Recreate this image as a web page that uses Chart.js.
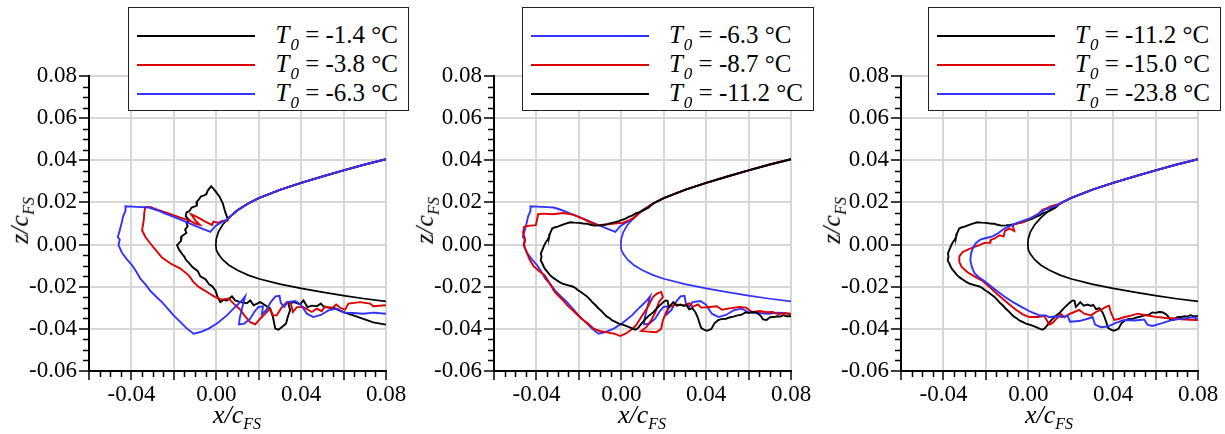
<!DOCTYPE html>
<html>
<head>
<meta charset="utf-8">
<script src="https://cdn.jsdelivr.net/npm/chart.js@4/dist/chart.umd.min.js"></script>
<style>
  html, body { margin: 0; padding: 0; background: #fff; }
  body { width: 1225px; height: 434px; position: relative; overflow: hidden;
         font-family: "Liberation Serif", "Times New Roman", serif; color: #000; }
  canvas { position: absolute; top: 0; }
  .legend { position: absolute; top: 7px; height: 104px; box-sizing: border-box;
            border: 1.5px solid #222; background: #fff; padding: 13px 10px 0 8px; }
  .row { display: flex; align-items: center; height: 29px; }
  .swatch { width: 118px; height: 0; border-top: 2px solid; margin-right: 20px; }
  .lbl { font-size: 25px; line-height: 29px; white-space: nowrap; }
  .lbl i { font-style: italic; }
  .sub { position: relative; top: 7px; font-size: 17px; font-style: italic; margin-left: 1px; }
  .title { position: absolute; font-size: 26px; font-style: italic; white-space: nowrap; line-height: 26px; }
  .title .fs { position: relative; top: 6px; font-size: 16px; }
</style>
</head>
<body>
<script>
// Clean airfoil leading edge (x/c, z/c), upper branch from x = 0.08 towards the nose
const upperSurface = [
  [0.080, 0.0405], [0.070, 0.0380], [0.060, 0.0352], [0.050, 0.0323], [0.040, 0.0293],
  [0.030, 0.0260], [0.020, 0.0220], [0.015, 0.0195], [0.010, 0.0163], [0.006, 0.0128],
  [0.003, 0.0094], [0.001, 0.0060], [0.000, 0.0028], [-0.0002, 0.0000]
];
// Lower branch from the nose back to x = 0.08
const lowerSurface = [
  [0.000, -0.0025], [0.001, -0.0045], [0.003, -0.0072], [0.006, -0.0098], [0.010, -0.0122],
  [0.015, -0.0145], [0.020, -0.0162], [0.030, -0.0188], [0.040, -0.0208], [0.050, -0.0226],
  [0.060, -0.0242], [0.070, -0.0257], [0.080, -0.0270]
];

// Ice contours, from where they leave the upper surface round to x = 0.08 underneath
const iceT_m1_4 = [
  [0.0055, 0.0119], [0.0042, 0.0155], [0.0031, 0.0195], [0.0016, 0.0226], [-0.0005, 0.0255],
  [-0.0024, 0.0277], [-0.0041, 0.0255], [-0.0047, 0.0239], [-0.0060, 0.0232], [-0.0072, 0.0229],
  [-0.0082, 0.0214], [-0.0094, 0.0201], [-0.0091, 0.0185], [-0.0104, 0.0180], [-0.0116, 0.0176],
  [-0.0126, 0.0160], [-0.0141, 0.0152], [-0.0144, 0.0134], [-0.0135, 0.0124], [-0.0126, 0.0115],
  [-0.0141, 0.0106], [-0.0135, 0.0087], [-0.0147, 0.0071], [-0.0141, 0.0055], [-0.0163, 0.0039],
  [-0.0166, 0.0017], [-0.0185, -0.0003], [-0.0176, -0.0024], [-0.0160, -0.0046], [-0.0150, -0.0058],
  [-0.0144, -0.0071], [-0.0126, -0.0090], [-0.0110, -0.0109], [-0.0088, -0.0125], [-0.0075, -0.0151],
  [-0.0050, -0.0166], [-0.0034, -0.0189], [-0.0019, -0.0198], [-0.0003, -0.0220], [0.0006, -0.0249],
  [0.0019, -0.0273], [0.0035, -0.0262], [0.0050, -0.0265], [0.0074, -0.0246], [0.0089, -0.0265],
  [0.0113, -0.0273], [0.0144, -0.0278], [0.0160, -0.0265], [0.0176, -0.0288], [0.0207, -0.0273],
  [0.0231, -0.0288], [0.0254, -0.0304], [0.0267, -0.0344], [0.0278, -0.0399], [0.0293, -0.0404],
  [0.0314, -0.0388], [0.0329, -0.0375], [0.0337, -0.0344], [0.0348, -0.0312], [0.0340, -0.0280],
  [0.0367, -0.0273], [0.0395, -0.0284], [0.0411, -0.0265], [0.0430, -0.0297], [0.0450, -0.0290],
  [0.0474, -0.0293], [0.0493, -0.0280], [0.0508, -0.0297], [0.0552, -0.0300], [0.0599, -0.0320],
  [0.0646, -0.0336], [0.0693, -0.0353], [0.0740, -0.0369], [0.0800, -0.0380]
];
const iceT_m3_8 = [
  [0.0050, 0.0112], [0.0027, 0.0112], [0.0011, 0.0103], [-0.0013, 0.0109], [-0.0020, 0.0093],
  [-0.0052, 0.0109], [-0.0083, 0.0127], [-0.0107, 0.0139], [-0.0119, 0.0144], [-0.0099, 0.0115],
  [-0.0078, 0.0094], [-0.0100, 0.0100], [-0.0122, 0.0112], [-0.0169, 0.0128], [-0.0232, 0.0150],
  [-0.0279, 0.0166], [-0.0311, 0.0179], [-0.0334, 0.0179], [-0.0339, 0.0155], [-0.0342, 0.0115],
  [-0.0350, 0.0068], [-0.0334, 0.0036], [-0.0311, 0.0005], [-0.0287, -0.0024], [-0.0256, -0.0062],
  [-0.0216, -0.0090], [-0.0169, -0.0114], [-0.0130, -0.0146], [-0.0107, -0.0178], [-0.0083, -0.0201],
  [-0.0044, -0.0225], [-0.0005, -0.0249], [0.0027, -0.0261], [0.0058, -0.0256], [0.0082, -0.0280],
  [0.0113, -0.0309], [0.0136, -0.0341], [0.0160, -0.0368], [0.0184, -0.0379], [0.0207, -0.0352],
  [0.0231, -0.0328], [0.0254, -0.0304], [0.0267, -0.0336], [0.0285, -0.0336], [0.0309, -0.0297],
  [0.0333, -0.0273], [0.0351, -0.0277], [0.0361, -0.0320], [0.0380, -0.0297], [0.0411, -0.0297],
  [0.0450, -0.0320], [0.0474, -0.0304], [0.0497, -0.0316], [0.0513, -0.0293], [0.0544, -0.0304],
  [0.0565, -0.0284], [0.0584, -0.0300], [0.0607, -0.0309], [0.0623, -0.0280], [0.0678, -0.0273],
  [0.0725, -0.0280], [0.0740, -0.0293], [0.0800, -0.0288]
];
const iceT_m6_3 = [
  [0.0058, 0.0123], [0.0019, 0.0103], [-0.0005, 0.0087], [-0.0028, 0.0060], [-0.0067, 0.0076],
  [-0.0107, 0.0092], [-0.0154, 0.0112], [-0.0201, 0.0131], [-0.0240, 0.0147], [-0.0279, 0.0163],
  [-0.0318, 0.0176], [-0.0373, 0.0179], [-0.0428, 0.0182], [-0.0428, 0.0160], [-0.0439, 0.0134],
  [-0.0446, 0.0103], [-0.0455, 0.0068], [-0.0464, 0.0036], [-0.0455, 0.0024], [-0.0461, -0.0003],
  [-0.0444, -0.0040], [-0.0420, -0.0071], [-0.0397, -0.0098], [-0.0376, -0.0130], [-0.0358, -0.0162],
  [-0.0334, -0.0189], [-0.0311, -0.0220], [-0.0282, -0.0249], [-0.0256, -0.0273], [-0.0229, -0.0304],
  [-0.0201, -0.0336], [-0.0169, -0.0368], [-0.0138, -0.0399], [-0.0107, -0.0423], [-0.0075, -0.0415],
  [-0.0036, -0.0399], [0.0003, -0.0375], [0.0050, -0.0336], [0.0089, -0.0296], [0.0121, -0.0265],
  [0.0136, -0.0246], [0.0121, -0.0304], [0.0110, -0.0352], [0.0107, -0.0379], [0.0132, -0.0375],
  [0.0160, -0.0352], [0.0179, -0.0320], [0.0199, -0.0296], [0.0220, -0.0293], [0.0215, -0.0331],
  [0.0235, -0.0312], [0.0257, -0.0273], [0.0279, -0.0246], [0.0298, -0.0243], [0.0304, -0.0277],
  [0.0320, -0.0296], [0.0336, -0.0273], [0.0372, -0.0268], [0.0398, -0.0284], [0.0427, -0.0328],
  [0.0458, -0.0344], [0.0493, -0.0334], [0.0529, -0.0312], [0.0568, -0.0304], [0.0602, -0.0323],
  [0.0646, -0.0325], [0.0693, -0.0328], [0.0740, -0.0323], [0.0800, -0.0328]
];
const iceT_m8_7 = [
  [0.0031, 0.0112], [0.0005, 0.0103], [-0.0032, 0.0100], [-0.0071, 0.0095], [-0.0110, 0.0092],
  [-0.0141, 0.0103], [-0.0181, 0.0123], [-0.0228, 0.0142], [-0.0275, 0.0150], [-0.0322, 0.0144],
  [-0.0369, 0.0147], [-0.0392, 0.0144], [-0.0397, 0.0119], [-0.0403, 0.0092], [-0.0439, 0.0089],
  [-0.0458, 0.0084], [-0.0463, 0.0055], [-0.0453, 0.0024], [-0.0458, -0.0003], [-0.0447, -0.0035],
  [-0.0432, -0.0071], [-0.0413, -0.0103], [-0.0388, -0.0125], [-0.0361, -0.0146], [-0.0337, -0.0185],
  [-0.0314, -0.0225], [-0.0282, -0.0257], [-0.0251, -0.0292], [-0.0220, -0.0320], [-0.0188, -0.0352],
  [-0.0157, -0.0375], [-0.0130, -0.0399], [-0.0102, -0.0410], [-0.0068, -0.0417], [-0.0032, -0.0423],
  [-0.0005, -0.0434], [0.0020, -0.0423], [0.0047, -0.0404], [0.0070, -0.0383], [0.0094, -0.0344],
  [0.0125, -0.0296], [0.0149, -0.0249], [0.0168, -0.0233], [0.0188, -0.0225], [0.0196, -0.0249],
  [0.0177, -0.0273], [0.0161, -0.0320], [0.0141, -0.0360], [0.0118, -0.0392], [0.0094, -0.0410],
  [0.0125, -0.0413], [0.0165, -0.0416], [0.0188, -0.0400], [0.0196, -0.0360], [0.0212, -0.0320],
  [0.0227, -0.0296], [0.0259, -0.0284], [0.0299, -0.0289], [0.0321, -0.0278], [0.0337, -0.0296],
  [0.0361, -0.0284], [0.0376, -0.0299], [0.0416, -0.0296], [0.0450, -0.0293], [0.0475, -0.0309],
  [0.0510, -0.0303], [0.0557, -0.0296], [0.0588, -0.0299], [0.0616, -0.0320], [0.0654, -0.0315],
  [0.0685, -0.0321], [0.0714, -0.0320], [0.0742, -0.0331], [0.0768, -0.0325], [0.0800, -0.0331]
];
const iceT_m11_2 = [
  [0.0128, 0.0175], [0.0100, 0.0160], [0.0085, 0.0154], [0.0068, 0.0148], [0.0053, 0.0139],
  [0.0035, 0.0131], [0.0018, 0.0122], [0.0000, 0.0116], [-0.0015, 0.0110], [-0.0030, 0.0106],
  [-0.0045, 0.0103], [-0.0065, 0.0097], [-0.0087, 0.0093], [-0.0105, 0.0091], [-0.0127, 0.0090],
  [-0.0145, 0.0094], [-0.0162, 0.0099], [-0.0180, 0.0100], [-0.0200, 0.0103], [-0.0220, 0.0104],
  [-0.0240, 0.0106], [-0.0258, 0.0101], [-0.0272, 0.0096], [-0.0288, 0.0090], [-0.0300, 0.0085],
  [-0.0315, 0.0081], [-0.0326, 0.0076], [-0.0330, 0.0066], [-0.0337, 0.0050], [-0.0340, 0.0036],
  [-0.0348, 0.0022], [-0.0355, 0.0012], [-0.0364, -0.0005], [-0.0370, -0.0020], [-0.0379, -0.0042],
  [-0.0376, -0.0058], [-0.0380, -0.0075], [-0.0372, -0.0090], [-0.0366, -0.0104], [-0.0358, -0.0118],
  [-0.0348, -0.0130], [-0.0336, -0.0145], [-0.0322, -0.0157], [-0.0306, -0.0168], [-0.0293, -0.0177],
  [-0.0275, -0.0186], [-0.0262, -0.0190], [-0.0245, -0.0195], [-0.0230, -0.0199], [-0.0215, -0.0207],
  [-0.0204, -0.0217], [-0.0190, -0.0225], [-0.0176, -0.0236], [-0.0162, -0.0246], [-0.0147, -0.0261],
  [-0.0135, -0.0275], [-0.0121, -0.0288], [-0.0108, -0.0302], [-0.0094, -0.0315], [-0.0080, -0.0330],
  [-0.0069, -0.0341], [-0.0055, -0.0350], [-0.0042, -0.0360], [-0.0025, -0.0368], [-0.0011, -0.0375],
  [0.0010, -0.0381], [0.0025, -0.0387], [0.0040, -0.0393], [0.0055, -0.0400], [0.0068, -0.0404],
  [0.0080, -0.0395], [0.0095, -0.0375], [0.0115, -0.0352], [0.0133, -0.0335], [0.0150, -0.0322],
  [0.0165, -0.0305], [0.0180, -0.0290], [0.0196, -0.0275], [0.0210, -0.0265], [0.0218, -0.0267],
  [0.0224, -0.0296], [0.0235, -0.0285], [0.0245, -0.0273], [0.0262, -0.0290], [0.0280, -0.0285],
  [0.0295, -0.0291], [0.0306, -0.0286], [0.0320, -0.0307], [0.0335, -0.0302], [0.0350, -0.0322],
  [0.0360, -0.0345], [0.0368, -0.0370], [0.0376, -0.0395], [0.0390, -0.0404], [0.0403, -0.0409],
  [0.0415, -0.0405], [0.0425, -0.0400], [0.0439, -0.0374], [0.0455, -0.0360], [0.0470, -0.0354],
  [0.0494, -0.0352], [0.0510, -0.0346], [0.0528, -0.0342], [0.0548, -0.0336], [0.0565, -0.0334],
  [0.0585, -0.0322], [0.0600, -0.0324], [0.0616, -0.0320], [0.0632, -0.0321], [0.0648, -0.0330],
  [0.0660, -0.0342], [0.0668, -0.0355], [0.0685, -0.0358], [0.0701, -0.0345], [0.0720, -0.0344],
  [0.0735, -0.0340], [0.0750, -0.0342], [0.0765, -0.0335], [0.0778, -0.0340], [0.0800, -0.0340]
];
const iceT_m15_0 = [
  [0.0138, 0.0190], [0.0107, 0.0182], [0.0083, 0.0171], [0.0068, 0.0166], [0.0052, 0.0150],
  [0.0028, 0.0134], [0.0000, 0.0119], [-0.0026, 0.0106], [-0.0053, 0.0100], [-0.0074, 0.0092],
  [-0.0066, 0.0065], [-0.0089, 0.0076], [-0.0110, 0.0065], [-0.0116, 0.0039], [-0.0136, 0.0044],
  [-0.0160, 0.0028], [-0.0176, 0.0023], [-0.0179, 0.0008], [-0.0207, 0.0008], [-0.0230, -0.0003],
  [-0.0254, -0.0011], [-0.0285, -0.0024], [-0.0309, -0.0035], [-0.0325, -0.0056], [-0.0325, -0.0083],
  [-0.0314, -0.0106], [-0.0288, -0.0130], [-0.0254, -0.0151], [-0.0215, -0.0173], [-0.0183, -0.0201],
  [-0.0152, -0.0230], [-0.0121, -0.0257], [-0.0089, -0.0284], [-0.0058, -0.0309], [-0.0026, -0.0331],
  [0.0005, -0.0344], [0.0044, -0.0344], [0.0075, -0.0338], [0.0091, -0.0365], [0.0099, -0.0380],
  [0.0115, -0.0372], [0.0138, -0.0346], [0.0154, -0.0330], [0.0170, -0.0345], [0.0193, -0.0330],
  [0.0217, -0.0320], [0.0240, -0.0310], [0.0264, -0.0328], [0.0295, -0.0336], [0.0319, -0.0320],
  [0.0342, -0.0310], [0.0366, -0.0296], [0.0381, -0.0290], [0.0389, -0.0320], [0.0405, -0.0358],
  [0.0430, -0.0352], [0.0450, -0.0345], [0.0480, -0.0338], [0.0515, -0.0328], [0.0540, -0.0333],
  [0.0570, -0.0338], [0.0600, -0.0343], [0.0630, -0.0346], [0.0660, -0.0350], [0.0690, -0.0350],
  [0.0720, -0.0355], [0.0760, -0.0357], [0.0800, -0.0358]
];
const iceT_m23_8 = [
  [0.0138, 0.0187], [0.0075, 0.0163], [0.0044, 0.0144], [0.0013, 0.0127], [-0.0019, 0.0115],
  [-0.0050, 0.0104], [-0.0081, 0.0090], [-0.0113, 0.0076], [-0.0141, 0.0055], [-0.0168, 0.0039],
  [-0.0199, 0.0031], [-0.0226, 0.0024], [-0.0246, 0.0008], [-0.0260, -0.0014], [-0.0270, -0.0043],
  [-0.0273, -0.0075], [-0.0266, -0.0106], [-0.0254, -0.0135], [-0.0235, -0.0154], [-0.0207, -0.0173],
  [-0.0176, -0.0198], [-0.0141, -0.0225], [-0.0105, -0.0252], [-0.0066, -0.0277], [-0.0026, -0.0299],
  [0.0013, -0.0320], [0.0052, -0.0336], [0.0083, -0.0336], [0.0099, -0.0345], [0.0130, -0.0340],
  [0.0162, -0.0344], [0.0185, -0.0336], [0.0196, -0.0366], [0.0240, -0.0363], [0.0280, -0.0352],
  [0.0303, -0.0344], [0.0315, -0.0380], [0.0342, -0.0392], [0.0374, -0.0389], [0.0413, -0.0372],
  [0.0452, -0.0358], [0.0499, -0.0360], [0.0546, -0.0356], [0.0562, -0.0380], [0.0585, -0.0386],
  [0.0624, -0.0375], [0.0672, -0.0360], [0.0711, -0.0354], [0.0758, -0.0348], [0.0781, -0.0345],
  [0.0800, -0.0355]
];

// Legend entries of each panel (freezing temperature, °C)
const panel1Temps = ['-1.4', '-3.8', '-6.3'];
const panel2Temps = ['-6.3', '-8.7', '-11.2'];
const panel3Temps = ['-11.2', '-15.0', '-23.8'];

const BLACK = '#000000', RED = '#dd0000', BLUE = '#3232ff';
const panel1Colors = [BLACK, RED, BLUE];
const panel2Colors = [BLUE, RED, BLACK];
const panel3Colors = [BLACK, RED, BLUE];

const contourByTemp = {
  '-1.4': iceT_m1_4, '-3.8': iceT_m3_8, '-6.3': iceT_m6_3, '-8.7': iceT_m8_7,
  '-11.2': iceT_m11_2, '-15.0': iceT_m15_0, '-23.8': iceT_m23_8
};

// Axis range and tick steps
const X_MIN = -0.06, X_MAX = 0.08, Y_MIN = -0.06, Y_MAX = 0.08;
const GRID_STEP = 0.02, MINOR_STEP = 0.005;

const panels = [
  { offset: 0,   temps: panel1Temps, colors: panel1Colors },
  { offset: 405, temps: panel2Temps, colors: panel2Colors },
  { offset: 812, temps: panel3Temps, colors: panel3Colors }
];

const toXY = pts => pts.map(p => ({ x: p[0], y: p[1] }));
const near = (v, step) => Math.abs(v / step - Math.round(v / step)) < 1e-6;
const fmt = v => (Math.abs(v) < 1e-9 ? 0 : v).toFixed(2);

// Short minor ticks every 0.005 on both axes, outside the plot area
const minorTicks = {
  id: 'minorTicks',
  afterDraw(chart) {
    const { ctx, chartArea, scales } = chart;
    ctx.save();
    ctx.strokeStyle = '#000';
    ctx.lineWidth = 1.5;
    const n = Math.round((X_MAX - X_MIN) / MINOR_STEP);
    for (let i = 0; i <= n; i++) {
      if (i % 4 === 0) continue;
      const v = X_MIN + i * MINOR_STEP;
      const px = Math.round(scales.x.getPixelForValue(v)) + 0.5;
      ctx.beginPath(); ctx.moveTo(px, chartArea.bottom); ctx.lineTo(px, chartArea.bottom + 6); ctx.stroke();
      const py = Math.round(scales.y.getPixelForValue(Y_MIN + i * MINOR_STEP)) + 0.5;
      ctx.beginPath(); ctx.moveTo(chartArea.left - 6, py); ctx.lineTo(chartArea.left, py); ctx.stroke();
    }
    ctx.restore();
  }
};

const tickFont = { family: '"Liberation Serif", "Times New Roman", serif', size: 23 };

panels.forEach(panel => {
  const canvas = document.createElement('canvas');
  canvas.width = 410; canvas.height = 434;
  canvas.style.left = panel.offset + 'px';
  canvas.style.width = '410px'; canvas.style.height = '434px';
  document.body.appendChild(canvas);

  // The clean airfoil sits underneath; later legend entries are drawn on top of earlier ones
  const datasets = [{
    label: 'airfoil',
    data: toXY(upperSurface.concat(lowerSurface)),
    borderColor: panel.colors[0], borderWidth: 1.7, order: 10
  }];
  panel.temps.forEach((t, k) => {
    const ice = contourByTemp[t];
    const path = upperSurface.filter(p => p[0] > ice[0][0]).concat(ice);
    datasets.push({
      label: 'T0 = ' + t + ' °C', data: toXY(path),
      borderColor: panel.colors[k], borderWidth: 1.9, order: panel.temps.length - k
    });
  });
  datasets.forEach(d => { d.showLine = true; d.pointRadius = 0; d.fill = false; d.tension = 0; });

  new Chart(canvas, {
    type: 'scatter',
    data: { datasets },
    options: {
      responsive: false, animation: false, devicePixelRatio: 1,
      layout: { padding: { left: 0, right: 24, top: 76, bottom: 0 } },
      plugins: { legend: { display: false }, tooltip: { enabled: false } },
      scales: {
        x: {
          type: 'linear', min: X_MIN, max: X_MAX,
          ticks: {
            stepSize: GRID_STEP, autoSkip: false, maxRotation: 0, padding: 1, color: '#000', font: tickFont,
            callback: v => near(v, 0.04) ? fmt(v) : ''
          },
          grid: { color: '#d6d6d6', lineWidth: 2, tickLength: 9, tickColor: '#000', tickWidth: 1.5 },
          border: { color: '#000', width: 2 },
          afterFit: s => { s.height = 63; }
        },
        y: {
          type: 'linear', min: Y_MIN, max: Y_MAX,
          ticks: { stepSize: GRID_STEP, autoSkip: false, padding: 2, color: '#000', font: tickFont, callback: v => fmt(v) },
          grid: { color: '#d6d6d6', lineWidth: 2, tickLength: 10, tickColor: '#000', tickWidth: 1.5 },
          border: { color: '#000', width: 2 },
          afterFit: s => { s.width = 89; }
        }
      }
    },
    plugins: [minorTicks]
  });

  // Axis titles
  const xt = document.createElement('div');
  xt.className = 'title';
  xt.innerHTML = 'x/c<span class="fs">FS</span>';
  document.body.appendChild(xt);
  xt.style.left = (panel.offset + 237 - xt.offsetWidth / 2) + 'px';
  xt.style.top = '402px';

  const yt = document.createElement('div');
  yt.className = 'title';
  yt.innerHTML = 'z/c<span class="fs">FS</span>';
  document.body.appendChild(yt);
  yt.style.left = (panel.offset + 21 - yt.offsetWidth / 2) + 'px';
  yt.style.top = (219 - 13) + 'px';
  yt.style.transform = 'rotate(-90deg)';

  // Legend box, anchored at its right edge
  const box = document.createElement('div');
  box.className = 'legend';
  box.style.right = (1225 - (panel.offset + 409)) + 'px';
  panel.temps.forEach((t, k) => {
    const row = document.createElement('div');
    row.className = 'row';
    row.innerHTML = '<div class="swatch" style="border-top-color:' + panel.colors[k] + '"></div>' +
      '<div class="lbl"><i>T</i><span class="sub">0</span> = ' + t + ' °C</div>';
    box.appendChild(row);
  });
  document.body.appendChild(box);
});
</script>
</body>
</html>
